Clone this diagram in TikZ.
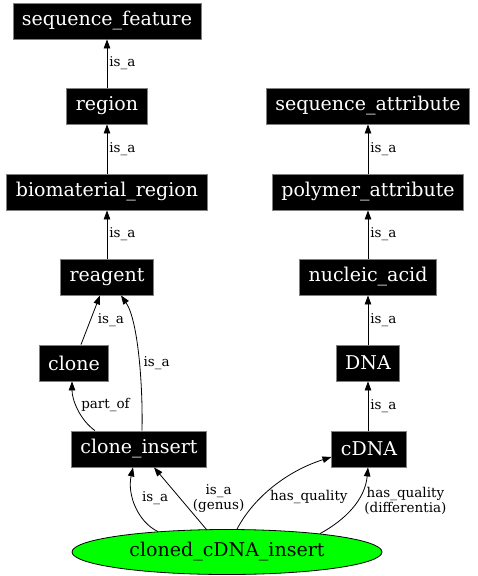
\documentclass[tikz,border=0pt]{standalone}
\usepackage{fontspec}
\setmainfont{DejaVu Serif}
\usetikzlibrary{arrows.meta,shapes.geometric}

\begin{document}
\begin{tikzpicture}[x=1pt,y=-1pt,
  >={Triangle[length=9pt,width=6.5pt]},
  every path/.style={line width=.8pt},
  term/.style={fill=black,draw=gray,text=white,minimum height=36pt,
    inner xsep=9pt,inner ysep=0pt,font=\fontsize{19}{22}\selectfont},
  root/.style={ellipse,fill=green,draw=black,minimum width=310pt,
    minimum height=45pt,inner sep=0pt,font=\fontsize{19}{22}\selectfont},
  lbl/.style={inner sep=2pt,align=center,font=\fontsize{13.5}{15}\selectfont}]
\useasboundingbox (0,0) rectangle (478,576);
\node[term] (seqfeat) at (107,21) {sequence\_feature};
\node[term] (region) at (107,106) {region};
\node[term] (biomat) at (107,192) {biomaterial\_region};
\node[term] (reagent) at (107,277) {reagent};
\node[term] (clone) at (74,363) {clone};
\node[term] (cloneins) at (139,449) {clone\_insert};
\node[term] (seqattr) at (368,106) {sequence\_attribute};
\node[term] (polyattr) at (368,192) {polymer\_attribute};
\node[term] (nucacid) at (368,277) {nucleic\_acid};
\node[term] (dna) at (368,363) {DNA};
\node[term] (cdna) at (369,449) {cDNA};
\node[root] (cloned) at (227,552) {cloned\_cDNA\_insert};
% left column
\draw[->] (region)--node[lbl,right]{is\_a} (seqfeat);
\draw[->] (biomat)--node[lbl,right]{is\_a} (region);
\draw[->] (reagent)--node[lbl,right]{is\_a} (biomat);
\draw[->] ([xshift=7pt]clone.north)--node[lbl,right,xshift=5pt]{is\_a} ([xshift=-7pt]reagent.south);
\draw[->] ([xshift=3pt]cloneins.north) .. controls (143,385) and (138,320) ..
  node[lbl,right,pos=.45,xshift=2pt]{is\_a} ([xshift=14pt]reagent.south);
\draw[->] ([xshift=-44pt]cloneins.north) .. controls (80,420) and (72,400) ..
  node[lbl,right,pos=.5,xshift=1pt,yshift=4pt]{part\_of} ([xshift=-2pt]clone.south);
% right column
\draw[->] (polyattr)--node[lbl,right]{is\_a} (seqattr);
\draw[->] (nucacid)--node[lbl,right]{is\_a} (polyattr);
\draw[->] (dna)--node[lbl,right]{is\_a} (nucacid);
\draw[->] (cdna.north-|dna)--node[lbl,right]{is\_a} (dna);
% from the root
\draw[->] ([xshift=-69pt,yshift=-2.5pt]cloned.north) .. controls (138,522) and (127,495) ..
  node[lbl,right,pos=.5,xshift=4pt,yshift=8pt]{is\_a} ([xshift=-6pt]cloneins.south);
\draw[->] ([xshift=-20pt,yshift=-1pt]cloned.north)--
  node[lbl,right,xshift=10pt]{is\_a\\(genus)} ([xshift=15pt]cloneins.south);
\draw[->] ([xshift=10pt]cloned.north) .. controls (255,495) and (290,470) ..
  node[lbl,right,pos=.35,xshift=6pt]{has\_quality} ([yshift=-8pt]cdna.west);
\draw[->] ([xshift=93pt,yshift=-4.5pt]cloned.north) .. controls (345,520) and (365,500) ..
  node[lbl,right,pos=.6,xshift=5pt]{has\_quality\\(differentia)} ([xshift=-1pt]cdna.south);
\end{tikzpicture}
\end{document}
